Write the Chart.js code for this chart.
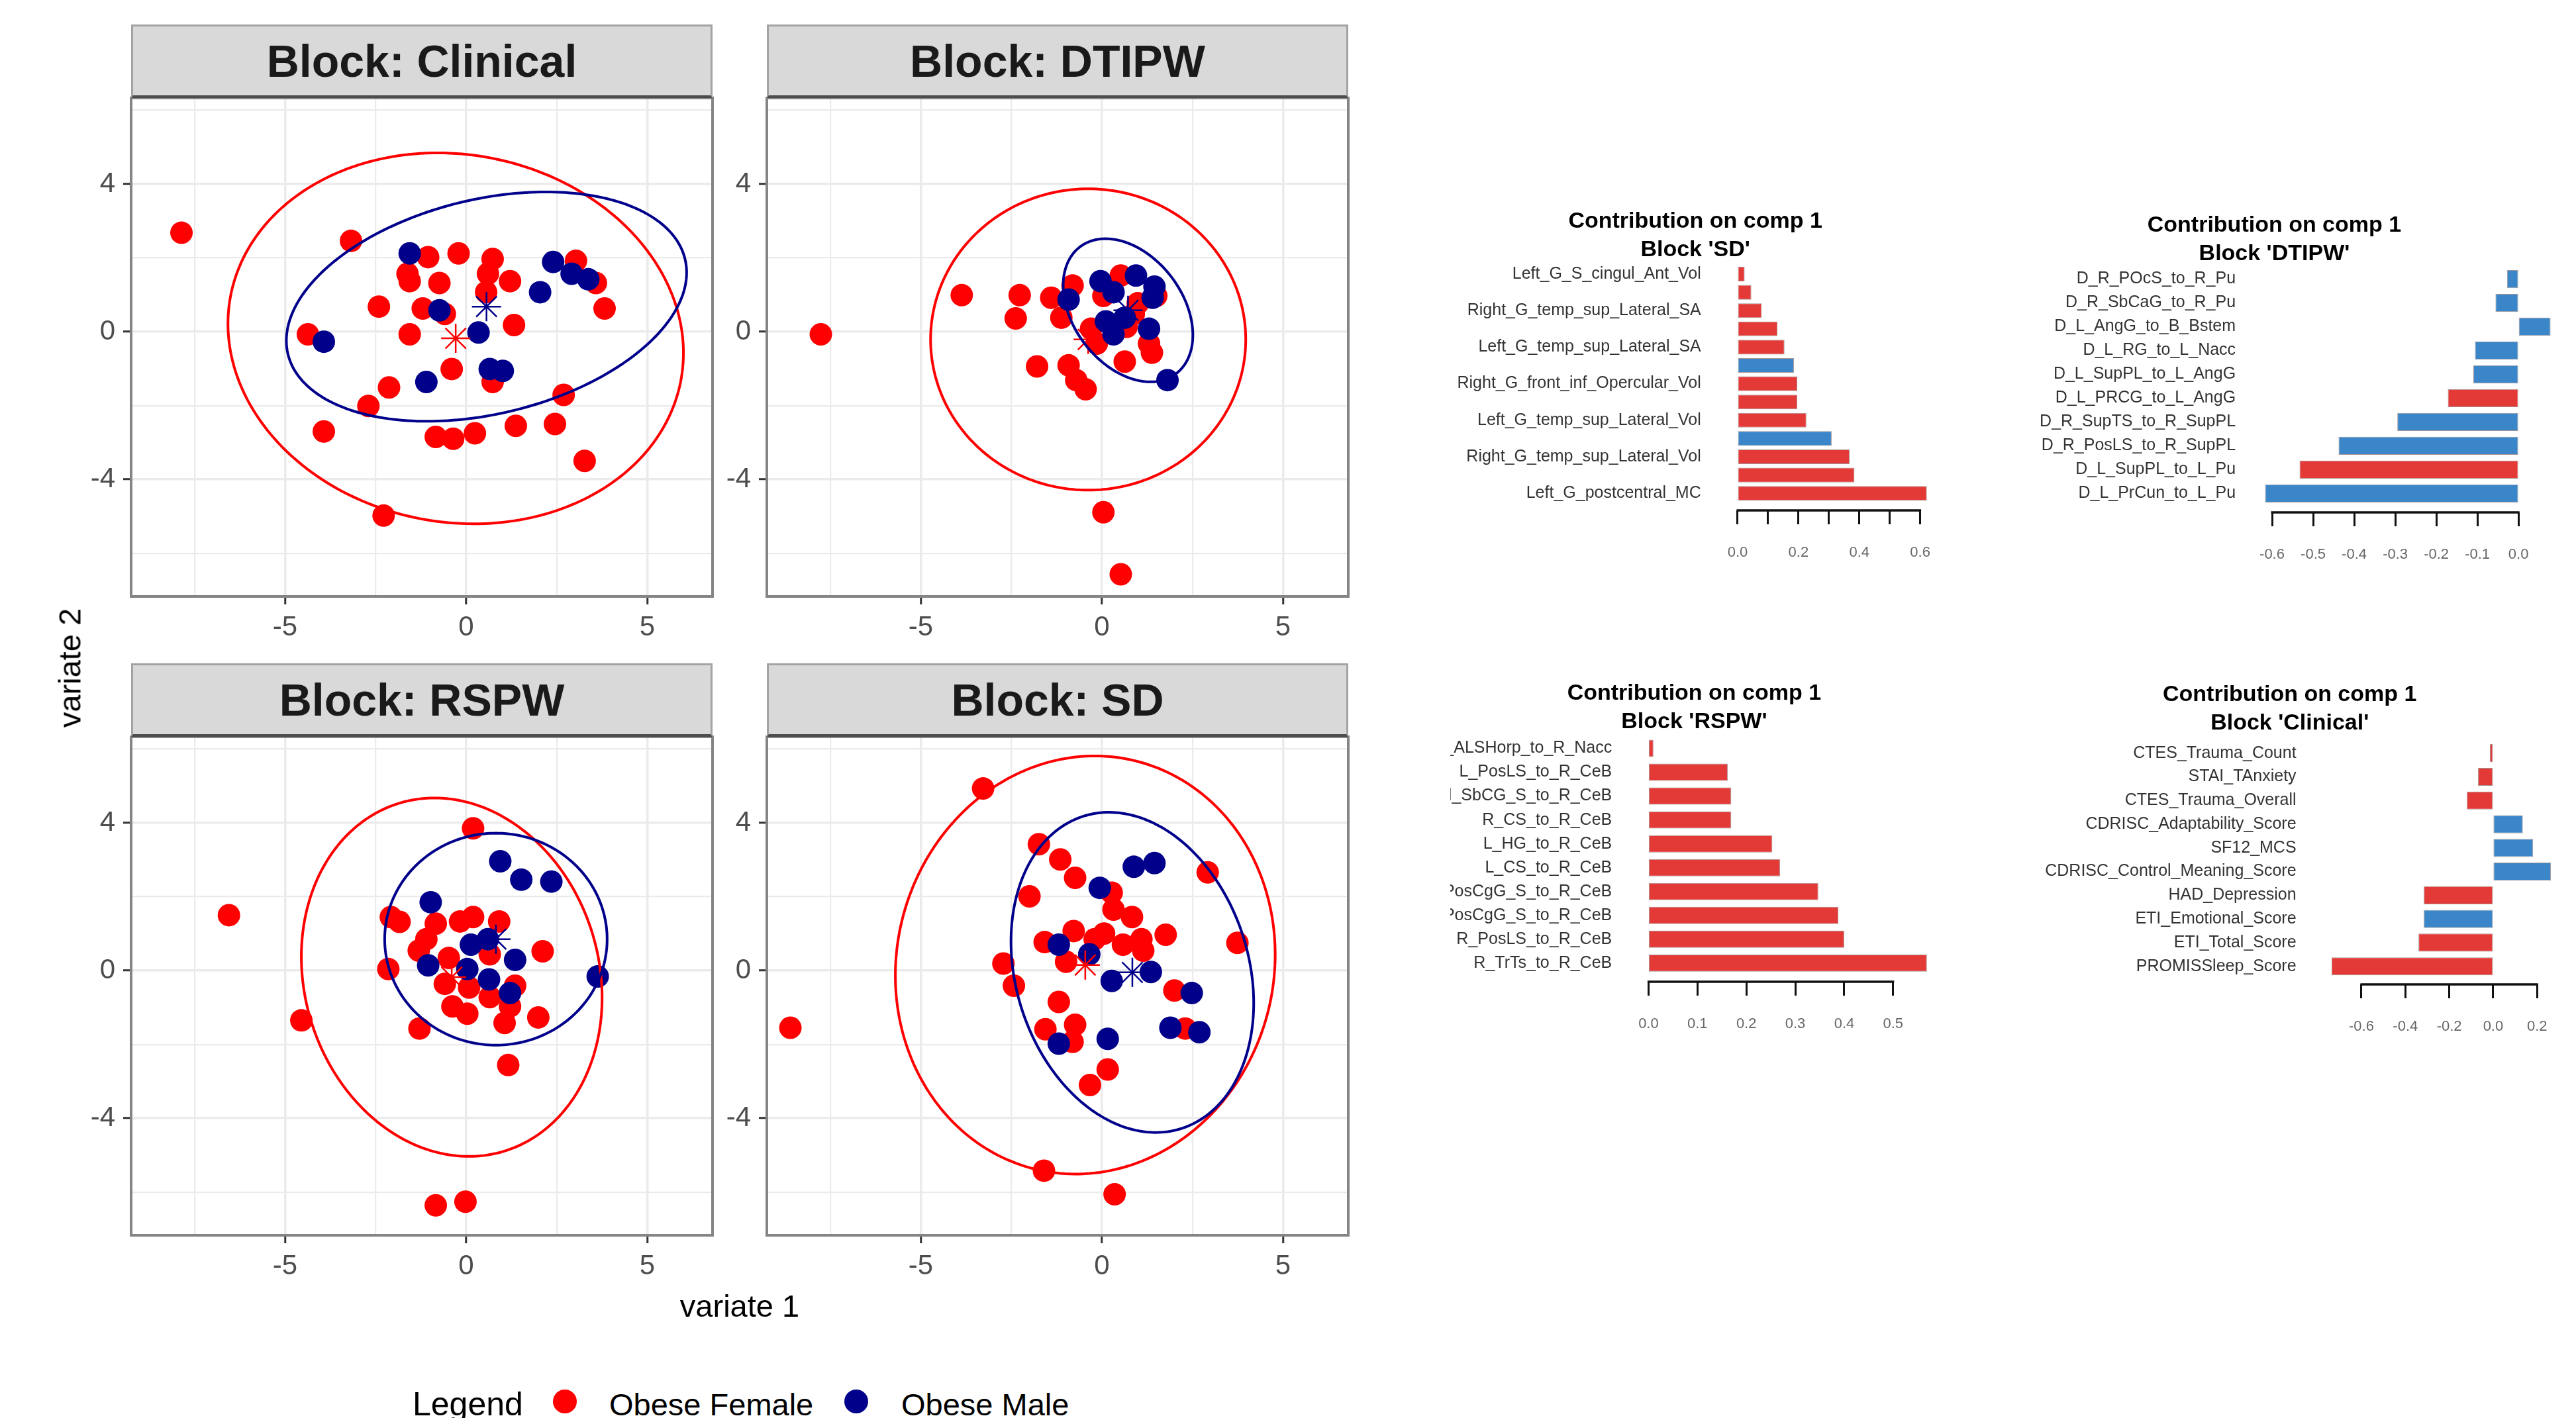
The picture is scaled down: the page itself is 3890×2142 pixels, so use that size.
<!DOCTYPE html>
<html>
<head>
<meta charset="utf-8">
<script src="https://cdn.jsdelivr.net/npm/chart.js@4.4.1/dist/chart.umd.min.js"></script>
<style>
  body { margin: 0; background: #fff; }
  #page { position: relative; width: 3890px; height: 2142px; overflow: hidden; background: #fff;
          font-family: 'Liberation Sans', Arial, Helvetica, sans-serif; }
  canvas { position: absolute; }
  .strip { position: absolute; box-sizing: border-box; background: #D9D9D9;
           border: 3px solid #A3A3A3; border-bottom: 4px solid #4D4D4D;
           display: flex; align-items: center; justify-content: center;
           font-weight: bold; font-size: 68px; color: #1A1A1A; }
  .txt { position: absolute; white-space: nowrap; color: #000; line-height: 1; }
  .dot { position: absolute; border-radius: 50%; }
</style>
</head>
<body>
<div id="page"></div>
<script>
// ---- sample plots (variate 1, variate 2) ----
const groupNames = ['Obese Female', 'Obese Male'];
const groupColors = ['#FF0000', '#00008B'];

const clinicalFemale = [[-7.86,2.68],[-3.18,2.46],[-1.05,2.02],[-0.21,2.12],[0.73,1.97],[0.60,1.57],[-1.62,1.57],
  [-1.56,1.37],[-0.74,1.32],[1.21,1.37],[0.55,1.07],[3.03,1.92],[3.58,1.32],[3.82,0.63],[-2.41,0.68],[-1.20,0.63],
  [-0.59,0.48],[1.32,0.18],[-4.37,-0.07],[-1.56,-0.07],[-0.40,-1.01],[0.73,-1.36],[-2.13,-1.51],[-2.70,-2.01],
  [2.69,-1.71],[-3.93,-2.70],[-0.84,-2.85],[-0.36,-2.90],[0.24,-2.75],[1.37,-2.55],[2.45,-2.50],[3.27,-3.50],[-2.28,-4.98]];
const clinicalMale = [[-1.56,2.12],[2.40,1.89],[2.91,1.57],[3.37,1.42],[2.04,1.07],[-0.74,0.58],[0.34,-0.02],
  [-3.93,-0.27],[0.65,-1.01],[1.01,-1.06],[-1.10,-1.36]];
// ellipses: centre x, centre y, semi axis a, semi axis b, angle (deg) -- female, male
const clinicalEllipses = [[-0.29,-0.18,6.32,4.98,-9.6],[0.56,0.68,5.63,2.91,13]];

const dtipwFemale = [[-7.76,-0.07],[-3.87,0.99],[-2.27,0.99],[-2.38,0.36],[-1.40,0.92],[-0.81,1.25],[-1.12,0.38],
  [0.52,1.52],[0.04,0.97],[0.99,0.77],[1.50,0.97],[-0.30,0.08],[-0.14,-0.32],[1.38,-0.57],[0.63,-0.81],[-1.79,-0.94],
  [-0.92,-0.91],[-0.71,-1.31],[-0.45,-1.56],[0.68,0.13],[0.04,-4.89],[0.52,-6.57],[0.88,0.48],[1.30,-0.32]];
const dtipwMale = [[-0.04,1.37],[0.94,1.52],[1.45,1.22],[0.32,1.07],[1.40,0.92],[-0.92,0.87],[0.11,0.28],
  [0.63,0.38],[0.32,-0.07],[1.30,0.08],[1.81,-1.31]];
const dtipwEllipses = [[-0.38,-0.21,4.35,4.08,0],[0.72,0.58,2.17,1.5,-51.5]];

const rspwFemale = [[-6.55,1.50],[-4.55,-1.35],[0.19,3.85],[-2.08,1.45],[-1.84,1.32],[-0.84,1.27],[-0.17,1.33],
  [0.19,1.45],[0.91,1.33],[-1.10,0.85],[-1.31,0.54],[-0.48,0.34],[0.65,0.44],[2.11,0.52],[-2.15,0.04],[-0.59,-0.36],
  [0.08,-0.46],[0.65,-0.72],[1.35,-0.41],[-0.38,-0.97],[0.03,-1.17],[1.06,-1.42],[1.99,-1.27],[-1.29,-1.57],
  [1.16,-2.56],[-0.84,-6.36],[-0.02,-6.26],[1.21,-0.97]];
const rspwMale = [[0.94,2.96],[1.52,2.46],[2.35,2.41],[-0.98,1.85],[0.60,0.85],[0.13,0.70],[1.35,0.29],
  [-1.05,0.14],[0.03,0.04],[0.63,-0.24],[1.21,-0.61],[3.63,-0.16]];
const rspwEllipses = [[-0.40,-0.18,4.93,4.06,-72],[0.82,0.85,3.07,2.87,0]];

const sdFemale = [[-8.60,-1.55],[-3.28,4.93],[-1.74,3.42],[-1.15,3.01],[-0.74,2.51],[-2.00,2.01],[0.27,2.11],
  [0.32,1.65],[0.83,1.45],[1.76,0.97],[2.92,2.66],[3.74,0.75],[-0.78,1.07],[-1.58,0.77],[0.06,1.00],[0.58,0.70],
  [1.09,0.85],[1.14,0.54],[-0.99,0.24],[-2.72,0.19],[-2.43,-0.41],[-1.19,-0.85],[2.00,-0.54],[-1.56,-1.59],
  [-0.74,-1.47],[-0.81,-1.93],[2.30,-1.57],[0.16,-2.68],[-0.33,-3.10],[-1.60,-5.42],[0.35,-6.06],[-0.20,0.85]];
const sdMale = [[0.88,2.81],[1.45,2.91],[-0.06,2.24],[-1.19,0.70],[-0.35,0.44],[0.27,-0.28],[1.35,-0.04],
  [2.48,-0.61],[1.89,-1.55],[2.69,-1.67],[-1.19,-1.98],[0.16,-1.85]];
const sdEllipses = [[-0.46,0.15,5.70,5.20,73.4],[0.84,-0.05,4.44,3.21,-71.8]];

// ---- loadings on component 1 ----
const sdLabels = ['Left_G_S_cingul_Ant_Vol','','Right_G_temp_sup_Lateral_SA','','Left_G_temp_sup_Lateral_SA','',
  'Right_G_front_inf_Opercular_Vol','','Left_G_temp_sup_Lateral_Vol','','Right_G_temp_sup_Lateral_Vol','','Left_G_postcentral_MC'];
const sdValues = [0.023,0.045,0.079,0.131,0.154,0.185,0.196,0.196,0.226,0.309,0.368,0.384,0.622];
const sdGroup = ['F','F','F','F','F','M','F','F','F','M','F','F','F'];

const dtipwLabels = ['D_R_POcS_to_R_Pu','D_R_SbCaG_to_R_Pu','D_L_AngG_to_B_Bstem','D_L_RG_to_L_Nacc','D_L_SupPL_to_L_AngG',
  'D_L_PRCG_to_L_AngG','D_R_SupTS_to_R_SupPL','D_R_PosLS_to_R_SupPL','D_L_SupPL_to_L_Pu','D_L_PrCun_to_L_Pu'];
const dtipwValues = [-0.028,-0.056,0.078,-0.106,-0.110,-0.172,-0.295,-0.438,-0.533,-0.617];
const dtipwGroup = ['M','M','M','M','M','F','M','M','F','M'];

const rspwLabels = ['_ALSHorp_to_R_Nacc','L_PosLS_to_R_CeB','l_SbCG_S_to_R_CeB','R_CS_to_R_CeB','L_HG_to_R_CeB',
  'L_CS_to_R_CeB','PosCgG_S_to_R_CeB','PosCgG_S_to_R_CeB','R_PosLS_to_R_CeB','R_TrTs_to_R_CeB'];
const rspwValues = [0.010,0.162,0.169,0.169,0.253,0.269,0.347,0.388,0.400,0.569];
const rspwGroup = ['F','F','F','F','F','F','F','F','F','F'];

const clinLabels = ['CTES_Trauma_Count','STAI_TAnxiety','CTES_Trauma_Overall','CDRISC_Adaptability_Score','SF12_MCS',
  'CDRISC_Control_Meaning_Score','HAD_Depression','ETI_Emotional_Score','ETI_Total_Score','PROMISSleep_Score'];
const clinValues = [-0.015,-0.069,-0.120,0.135,0.182,0.263,-0.316,-0.316,-0.340,-0.736];
const clinGroup = ['F','F','F','M','M','M','F','M','F','F'];

const barColors = { F: '#E33A37', M: '#3A86C8' };

Chart.defaults.font.family = "'Liberation Sans', Arial, Helvetica, sans-serif";
Chart.defaults.animation = false;

const page = document.getElementById('page');

function addCanvas(left, top, w, h) {
  const c = document.createElement('canvas');
  c.width = Math.round(w);
  c.height = Math.round(h);
  c.style.left = left + 'px';
  c.style.top = top + 'px';
  page.appendChild(c);
  return c;
}

function addText(text, left, top, size, extra) {
  const d = document.createElement('div');
  d.className = 'txt';
  d.textContent = text;
  d.style.left = left + 'px';
  d.style.top = top + 'px';
  d.style.fontSize = size + 'px';
  if (extra) Object.assign(d.style, extra);
  page.appendChild(d);
  return d;
}

// fixed axis box size, and no extra label padding pushing the plot area around
function fixBox(size) {
  return s => {
    if (s.isHorizontal()) s.height = size; else s.width = size;
    s.paddingTop = 0; s.paddingBottom = 0; s.paddingLeft = 0; s.paddingRight = 0;
  };
}

// ---------- facet panels ----------
const PANEL_W = 878, PANEL_H = 753, STRIP_H = 111;
const X_MIN = -9.25, X_MAX = 6.8, Y_MIN = -7.17, Y_MAX = 6.33;
const strips = [];

function ellipsePlugin(ellipses) {
  return {
    id: 'ellipses',
    afterDatasetsDraw(chart) {
      const { ctx, scales: { x, y } } = chart;
      ctx.save();
      ctx.lineWidth = 4;
      ellipses.forEach((e, g) => {
        const [cx, cy, a, b, deg] = e;
        const r = deg * Math.PI / 180;
        ctx.strokeStyle = groupColors[g];
        ctx.beginPath();
        for (let k = 0; k <= 240; k++) {
          const t = 2 * Math.PI * k / 240;
          const px = x.getPixelForValue(cx + a * Math.cos(t) * Math.cos(r) - b * Math.sin(t) * Math.sin(r));
          const py = y.getPixelForValue(cy + a * Math.cos(t) * Math.sin(r) + b * Math.sin(t) * Math.cos(r));
          if (k) ctx.lineTo(px, py); else ctx.moveTo(px, py);
        }
        ctx.closePath();
        ctx.stroke();
      });
      ctx.restore();
    }
  };
}

const panelFrame = {
  id: 'panelFrame',
  afterDraw(chart) {
    const { ctx, chartArea: a } = chart;
    ctx.save();
    ctx.strokeStyle = '#858585';
    ctx.lineWidth = 4;
    ctx.strokeRect(a.left, a.top, a.right - a.left, a.bottom - a.top);
    ctx.restore();
  }
};

function scatterPanel(name, female, male, ellipses, left, top) {
  const yw = 120, xh = 90, pad = 6;
  const cv = addCanvas(left - yw, top - pad, yw + PANEL_W + pad, pad + PANEL_H + xh);
  const pts = arr => arr.map(p => ({ x: p[0], y: p[1] }));
  const major = (c, m) => c.tick && Math.abs(c.tick.value % m) < 1e-9;

  new Chart(cv, {
    type: 'scatter',
    data: {
      datasets: [
        { label: 'centroid', data: ellipses.map(e => ({ x: e[0], y: e[1] })), pointStyle: 'star',
          pointRadius: 22, pointBorderWidth: 2.5, pointBorderColor: groupColors, pointBackgroundColor: groupColors, order: 0 },
        { label: groupNames[1], data: pts(male), pointRadius: 17, pointBorderWidth: 0,
          pointBackgroundColor: groupColors[1], order: 1 },
        { label: groupNames[0], data: pts(female), pointRadius: 17, pointBorderWidth: 0,
          pointBackgroundColor: groupColors[0], order: 2 }
      ]
    },
    options: {
      responsive: false,
      devicePixelRatio: 1,
      events: [],
      layout: { autoPadding: false, padding: { top: pad, right: pad, left: 0, bottom: 0 } },
      plugins: { legend: { display: false }, tooltip: { enabled: false } },
      scales: {
        x: {
          type: 'linear', min: X_MIN, max: X_MAX,
          afterFit: fixBox(xh),
          border: { display: false },
          grid: { color: '#EBEBEB', lineWidth: c => major(c, 5) ? 3.5 : 2.2, tickLength: 12, tickWidth: 3,
                  tickColor: c => major(c, 5) ? '#333333' : 'rgba(0,0,0,0)' },
          ticks: { stepSize: 2.5, includeBounds: false, autoSkip: false, maxRotation: 0, padding: 10,
                   color: '#4D4D4D', font: { size: 42 },
                   callback: v => Math.abs(v % 5) < 1e-9 ? String(v) : '' }
        },
        y: {
          type: 'linear', min: Y_MIN, max: Y_MAX,
          afterFit: fixBox(yw),
          border: { display: false },
          grid: { color: '#EBEBEB', lineWidth: c => major(c, 4) ? 3.5 : 2.2, tickLength: 12, tickWidth: 3,
                  tickColor: c => major(c, 4) ? '#333333' : 'rgba(0,0,0,0)' },
          ticks: { stepSize: 2, includeBounds: false, autoSkip: false, padding: 12,
                   color: '#4D4D4D', font: { size: 42 },
                   callback: v => Math.abs(v % 4) < 1e-9 ? String(v) : '' }
        }
      }
    },
    plugins: [ellipsePlugin(ellipses), panelFrame]
  });
  strips.push([name, left, top]);
}

scatterPanel('Block: Clinical', clinicalFemale, clinicalMale, clinicalEllipses, 198, 148);
scatterPanel('Block: DTIPW', dtipwFemale, dtipwMale, dtipwEllipses, 1158, 148);
scatterPanel('Block: RSPW', rspwFemale, rspwMale, rspwEllipses, 198, 1113);
scatterPanel('Block: SD', sdFemale, sdMale, sdEllipses, 1158, 1113);

strips.forEach(([name, left, top]) => {
  const d = document.createElement('div');
  d.className = 'strip';
  d.textContent = name;
  Object.assign(d.style, { left: left + 'px', top: (top - STRIP_H) + 'px', width: PANEL_W + 'px', height: STRIP_H + 'px' });
  page.appendChild(d);
});

addText('variate 1', 1117, 1972, 47, { transform: 'translate(-50%, -50%)' });
addText('variate 2', 105, 1009, 47, { transform: 'translate(-50%, -50%) rotate(-90deg)' });

// legend
addText('Legend', 623, 2096, 50);
addText(groupNames[0], 920, 2098, 47);
addText(groupNames[1], 1361, 2098, 47);
[[853, groupColors[0]], [1293, groupColors[1]]].forEach(([cx, col]) => {
  const d = document.createElement('div');
  d.className = 'dot';
  Object.assign(d.style, { left: (cx - 18) + 'px', top: (2117 - 18) + 'px', width: '36px', height: '36px', background: col });
  page.appendChild(d);
});

// ---------- loading bar plots ----------
const TITLE_LH = 43, BAR_XH = 100;

const axisLine = {
  id: 'axisLine',
  afterDraw(chart) {
    const s = chart.scales.x, t = s.ticks, ctx = chart.ctx;
    ctx.save();
    ctx.strokeStyle = '#111';
    ctx.lineWidth = 3.5;
    ctx.beginPath();
    ctx.moveTo(s.getPixelForValue(t[0].value) - 1.5, s.top);
    ctx.lineTo(s.getPixelForValue(t[t.length - 1].value) + 1.5, s.top);
    ctx.stroke();
    ctx.restore();
  }
};

function loadingsChart(block, labels, values, groups, L) {
  const plotL = L.zero + L.vMin * L.ppu;
  const plotR = L.zero + L.vMax * L.ppu;
  const centre = (plotL + plotR) / 2;
  const left = L.canvasLeft;
  const right = 2 * centre - left;
  const top = Math.round(L.title1 - TITLE_LH / 2);
  const chartTop = top + 2 * TITLE_LH;
  const cv = addCanvas(left, top, right - left, L.axisY - top + BAR_XH);

  new Chart(cv, {
    type: 'bar',
    data: {
      datasets: [{
        data: values.map((v, i) => ({ x: v, y: i })),
        backgroundColor: groups.map(g => barColors[g]),
        borderColor: 'rgba(60,20,20,0.45)',
        borderWidth: 1,
        borderSkipped: false,
        barPercentage: L.barPct,
        categoryPercentage: 1
      }]
    },
    options: {
      indexAxis: 'y',
      responsive: false,
      devicePixelRatio: 1,
      events: [],
      layout: { autoPadding: false, padding: { left: 0, top: 0, bottom: 0, right: right - plotR } },
      plugins: {
        legend: { display: false },
        tooltip: { enabled: false },
        title: { display: true, fullSize: true, text: ['Contribution on comp 1', "Block '" + block + "'"],
                 color: '#000', padding: { top: 0, bottom: 0 },
                 font: { size: 34, weight: 'bold', lineHeight: TITLE_LH / 34 } }
      },
      scales: {
        y: {
          type: 'linear', reverse: true, offset: false,
          min: (chartTop - L.bar1) / L.slot, max: (L.axisY - L.bar1) / L.slot,
          afterFit: fixBox(plotL - left),
          grid: { display: false, offset: false }, border: { display: false },
          ticks: { stepSize: 1, includeBounds: false, autoSkip: false, padding: L.labelPad,
                   color: '#333', font: { size: 25 },
                   callback: v => Number.isInteger(v) ? (labels[v] || '') : '' }
        },
        x: {
          type: 'linear', min: L.vMin, max: L.vMax,
          afterFit: fixBox(BAR_XH),
          afterBuildTicks: s => { s.ticks = s.ticks.filter(t => t.value > L.lo - 1e-6 && t.value < L.hi + 1e-6); },
          border: { display: false },
          grid: { drawOnChartArea: false, drawTicks: true, tickLength: 21, tickWidth: 3, tickColor: '#111' },
          ticks: { stepSize: L.step, includeBounds: false, autoSkip: false, maxRotation: 0, padding: 30,
                   color: '#666', font: { size: 22 },
                   callback: v => Math.round(v / L.step) % L.every === 0 ? (Math.abs(v) < 1e-9 ? '0.0' : v.toFixed(1)) : '' }
        }
      }
    },
    plugins: [axisLine]
  });
}

loadingsChart('SD', sdLabels, sdValues, sdGroup,
  { title1: 334, bar1: 414, slot: 27.6, axisY: 771, zero: 2624, ppu: 460, vMin: -0.031, vMax: 0.645,
    lo: 0, hi: 0.6, step: 0.1, every: 2, labelPad: 33, canvasLeft: 2200, barPct: 0.8 });
loadingsChart('DTIPW', dtipwLabels, dtipwValues, dtipwGroup,
  { title1: 340, bar1: 421.6, slot: 35.97, axisY: 774, zero: 3803, ppu: 620, vMin: -0.645, vMax: 0.106,
    lo: -0.6, hi: 0, step: 0.1, every: 1, labelPad: 19, canvasLeft: 3000, barPct: 0.76 });
loadingsChart('RSPW', rspwLabels, rspwValues, rspwGroup,
  { title1: 1047, bar1: 1130.5, slot: 36.04, axisY: 1483, zero: 2489.4, ppu: 738, vMin: -0.0287, vMax: 0.592,
    lo: 0, hi: 0.5, step: 0.1, every: 1, labelPad: 26, canvasLeft: 2190, barPct: 0.72 });
loadingsChart('Clinical', clinLabels, clinValues, clinGroup,
  { title1: 1049, bar1: 1137.7, slot: 35.76, axisY: 1486.8, zero: 3765, ppu: 331.7, vMin: -0.776, vMax: 0.303,
    lo: -0.6, hi: 0.2, step: 0.2, every: 1, labelPad: 32, canvasLeft: 3050, barPct: 0.76 });
</script>
</body>
</html>
